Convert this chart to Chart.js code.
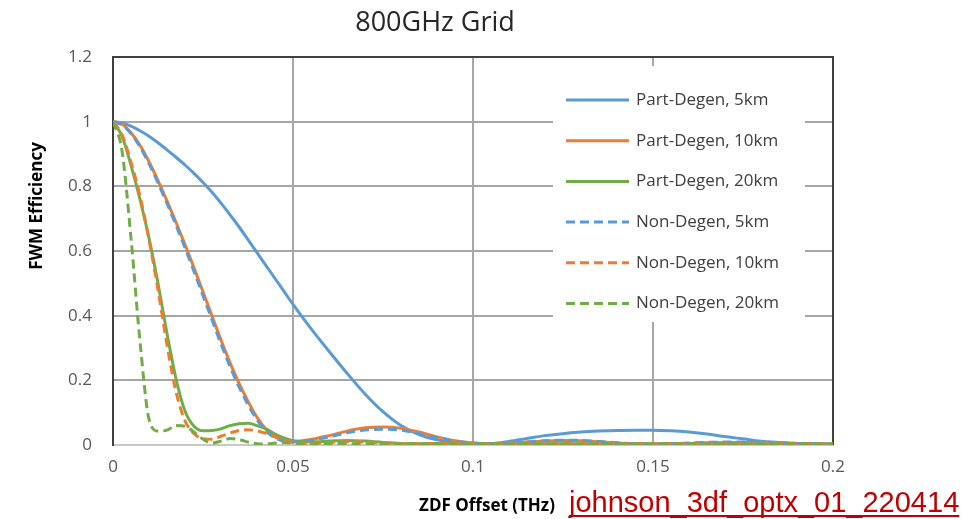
<!DOCTYPE html>
<html>
<head>
<meta charset="utf-8">
<script src="https://cdn.jsdelivr.net/npm/chart.js@4.4.1/dist/chart.umd.min.js"></script>
<style>
  html, body { margin: 0; padding: 0; background: #ffffff; }
  #wrap { width: 971px; height: 519px; position: relative; }
</style>
</head>
<body>
<div id="wrap"><canvas id="chart" width="971" height="519"></canvas></div>
<script>
// offsets in THz
const xValues = [
  0, 0.0025, 0.005, 0.0075, 0.01, 0.0125, 0.015, 0.0175, 0.02, 0.0225,
  0.025, 0.0275, 0.03, 0.0325, 0.035, 0.0375, 0.04, 0.0425, 0.045, 0.0475,
  0.05, 0.055, 0.06, 0.065, 0.07, 0.075, 0.08, 0.085, 0.09, 0.095,
  0.1, 0.105, 0.11, 0.115, 0.12, 0.125, 0.13, 0.135, 0.14, 0.145,
  0.15, 0.155, 0.16, 0.165, 0.17, 0.175, 0.18, 0.185, 0.19, 0.195, 0.2
]

const partDegen5km = [
  1, 0.996, 0.986, 0.972, 0.955, 0.935, 0.913, 0.89, 0.866, 0.84,
  0.812, 0.782, 0.748, 0.712, 0.675, 0.635, 0.595, 0.555, 0.515, 0.475,
  0.435, 0.36, 0.29, 0.222, 0.158, 0.103, 0.06, 0.032, 0.016, 0.007,
  0.003, 0.004, 0.011, 0.02, 0.029, 0.035, 0.04, 0.043, 0.045, 0.046,
  0.046, 0.044, 0.04, 0.034, 0.026, 0.019, 0.012, 0.008, 0.005, 0.003, 0.002
]

const partDegen10km = [
  1, 0.992, 0.966, 0.927, 0.876, 0.818, 0.755, 0.689, 0.62, 0.548,
  0.474, 0.399, 0.325, 0.255, 0.191, 0.135, 0.086, 0.049, 0.026, 0.015,
  0.011, 0.017, 0.029, 0.043, 0.053, 0.056, 0.052, 0.04, 0.025, 0.013,
  0.006, 0.004, 0.006, 0.009, 0.012, 0.014, 0.013, 0.01, 0.006, 0.004,
  0.003, 0.004, 0.005, 0.007, 0.008, 0.008, 0.007, 0.006, 0.005, 0.003, 0.002
]

const partDegen20km = [
  1, 0.955, 0.865, 0.76, 0.64, 0.5, 0.345, 0.205, 0.105, 0.058,
  0.044, 0.045, 0.05, 0.06, 0.066, 0.067, 0.06, 0.05, 0.034, 0.022,
  0.013, 0.01, 0.012, 0.014, 0.012, 0.008, 0.005, 0.004, 0.005, 0.006,
  0.005, 0.004, 0.003, 0.003, 0.004, 0.004, 0.003, 0.003, 0.003, 0.003,
  0.003, 0.003, 0.003, 0.003, 0.003, 0.003, 0.003, 0.003, 0.003, 0.003, 0.003
]

const nonDegen5km = [
  1, 0.99, 0.963, 0.922, 0.87, 0.811, 0.747, 0.68, 0.61, 0.537,
  0.462, 0.387, 0.313, 0.243, 0.18, 0.125, 0.078, 0.043, 0.022, 0.012,
  0.01, 0.015, 0.025, 0.038, 0.046, 0.049, 0.046, 0.035, 0.022, 0.012,
  0.006, 0.004, 0.006, 0.009, 0.013, 0.015, 0.014, 0.011, 0.007, 0.004,
  0.003, 0.004, 0.006, 0.008, 0.009, 0.009, 0.008, 0.007, 0.005, 0.004, 0.003
]

const nonDegen10km = [
  1, 0.96, 0.875, 0.77, 0.635, 0.48, 0.31, 0.165, 0.075, 0.035,
  0.02, 0.018, 0.027, 0.037, 0.045, 0.047, 0.044, 0.036, 0.025, 0.015,
  0.008, 0.005, 0.008, 0.01, 0.009, 0.006, 0.004, 0.004, 0.005, 0.005,
  0.004, 0.004, 0.004, 0.004, 0.004, 0.004, 0.004, 0.004, 0.004, 0.004,
  0.004, 0.004, 0.004, 0.004, 0.004, 0.004, 0.004, 0.004, 0.004, 0.004, 0.004
]

const nonDegen20km = [
  1, 0.91, 0.64, 0.32, 0.08, 0.043, 0.046, 0.06, 0.058, 0.04,
  0.018, 0.006, 0.012, 0.02, 0.017, 0.009, 0.004, 0.003, 0.006, 0.008,
  0.006, 0.003, 0.005, 0.004, 0.003, 0.004, 0.003, 0.003, 0.003, 0.003,
  0.003, 0.003, 0.003, 0.003, 0.003, 0.003, 0.003, 0.003, 0.003, 0.003,
  0.003, 0.003, 0.003, 0.003, 0.003, 0.003, 0.003, 0.003, 0.003, 0.003, 0.003
]

const seriesLabels = [
  "Part-Degen, 5km", "Part-Degen, 10km", "Part-Degen, 20km",
  "Non-Degen, 5km", "Non-Degen, 10km", "Non-Degen, 20km"
]
const seriesValues = [partDegen5km, partDegen10km, partDegen20km, nonDegen5km, nonDegen10km, nonDegen20km]

const BLUE = "#5b9bd5"
const ORANGE = "#ed7d31"
const GREEN = "#70ad47"
const seriesColors = [BLUE, ORANGE, GREEN, BLUE, ORANGE, GREEN]
const DASH = [9, 5]

const datasets = seriesValues.map((vals, i) => ({
  label: seriesLabels[i],
  data: xValues.map((x, j) => ({ x: x, y: vals[j] })),
  borderColor: seriesColors[i],
  backgroundColor: seriesColors[i],
  borderWidth: 3,
  borderDash: i >= 3 ? DASH : [],
  pointRadius: 0,
  cubicInterpolationMode: "monotone",
  fill: false,
  order: seriesValues.length - i, // later series on top, like the original
}))

const TEXT = "#595959"
const FONT = "'Open Sans', sans-serif"

// drop trailing zeros: 1, 0.1, 0.2
const plainTick = (v) => String(Number(v.toFixed(3)))

// legend box sits inside the plot area and hides the grid behind it
const legendBox = {
  id: "legendBox",
  afterDatasetsDraw(chart) {
    const ctx = chart.ctx
    ctx.save()
    ctx.fillStyle = "#ffffff"
    ctx.fillRect(553, 66, 252, 256)
    ctx.font = "17px " + FONT
    ctx.textBaseline = "middle"
    ctx.textAlign = "left"
    chart.data.datasets.forEach((ds, i) => {
      const y = 100 + i * 40.7
      ctx.strokeStyle = ds.borderColor
      ctx.lineWidth = 3
      ctx.setLineDash(ds.borderDash)
      ctx.beginPath()
      ctx.moveTo(566, y)
      ctx.lineTo(629, y)
      ctx.stroke()
      ctx.setLineDash([])
      ctx.fillStyle = "#404040"
      ctx.fillText(ds.label, 636, y)
    })
    ctx.restore()
  }
}

const decorations = {
  id: "decorations",
  beforeDatasetsDraw(chart) {
    const { ctx, chartArea: a } = chart
    ctx.save()
    ctx.strokeStyle = "#404040"
    ctx.lineWidth = 2
    ctx.beginPath()
    ctx.moveTo(a.left, a.top)
    ctx.lineTo(a.right, a.top)
    ctx.lineTo(a.right, a.bottom)
    ctx.stroke()
    ctx.restore()
  },
  afterDraw(chart) {
    const ctx = chart.ctx
    ctx.save()
    ctx.fillStyle = "#262626"
    ctx.textAlign = "center"
    ctx.textBaseline = "middle"
    ctx.font = "27px " + FONT
    ctx.fillText("800GHz Grid", 435, 23)

    ctx.fillStyle = "#000000"
    ctx.font = "bold 17px " + FONT
    ctx.fillText("ZDF Offset (THz)", 487, 506)

    ctx.save()
    ctx.translate(37, 206)
    ctx.rotate(-Math.PI / 2)
    ctx.fillText("FWM Efficiency", 0, 0)
    ctx.restore()

    // source tag under the chart
    const tag = "johnson_3df_optx_01_220414"
    ctx.font = "29px 'Liberation Sans', Arial, sans-serif"
    ctx.fillStyle = "#c00000"
    ctx.textAlign = "left"
    ctx.textBaseline = "alphabetic"
    ctx.fillText(tag, 569, 512)
    const w = ctx.measureText(tag).width
    ctx.fillRect(569, 515, w, 2)
    ctx.restore()
  }
}

new Chart(document.getElementById("chart"), {
  type: "line",
  data: { datasets: datasets },
  options: {
    responsive: false,
    animation: false,
    layout: { padding: { top: 57, right: 138, left: 0, bottom: 0 } },
    plugins: {
      legend: { display: false },
      tooltip: { enabled: false },
      title: { display: false },
    },
    scales: {
      x: {
        type: "linear",
        min: 0,
        max: 0.2,
        afterFit: (s) => { s.height = 74 },
        ticks: { stepSize: 0.05, color: TEXT, font: { family: FONT, size: 17 }, padding: 12, callback: plainTick },
        grid: { color: "#a6a6a6", lineWidth: 2, drawTicks: false },
        border: { color: "#c8c8c8", width: 2 },
      },
      y: {
        min: 0,
        max: 1.2,
        afterFit: (s) => { s.width = 113 },
        ticks: { stepSize: 0.2, color: TEXT, font: { family: FONT, size: 17 }, padding: 21, callback: plainTick },
        grid: { color: "#a6a6a6", lineWidth: 2, drawTicks: false },
        border: { color: "#404040", width: 2 },
      }
    }
  },
  plugins: [decorations, legendBox]
})
</script>
</body>
</html>
